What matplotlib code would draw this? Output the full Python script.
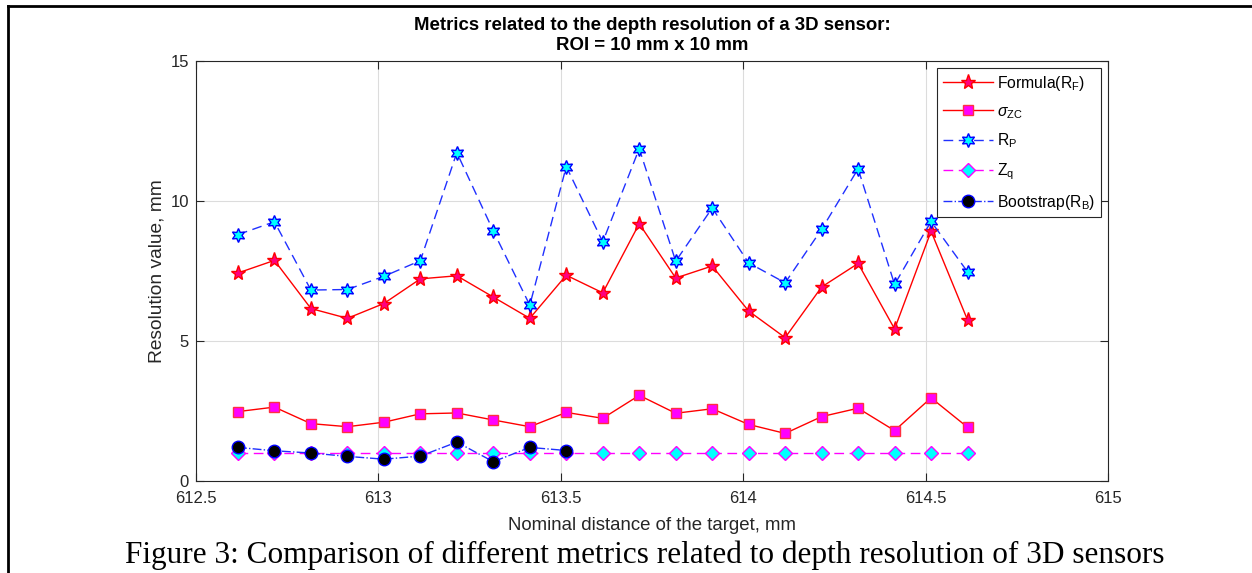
import matplotlib
matplotlib.use("Agg")
import matplotlib.pyplot as plt
from matplotlib.lines import Line2D
from matplotlib.ticker import FuncFormatter

plt.rcParams['font.family'] = ['Liberation Sans', 'DejaVu Sans']
plt.rcParams['mathtext.fontset'] = 'custom'
plt.rcParams['mathtext.rm'] = 'Liberation Sans'
plt.rcParams['mathtext.it'] = 'Liberation Sans:italic'

# nominal distances (mm)
dist = [612.615, 612.715, 612.815, 612.915, 613.015, 613.115, 613.215,
        613.315, 613.415, 613.515, 613.615, 613.715, 613.815, 613.915,
        614.015, 614.115, 614.215, 614.315, 614.415, 614.515, 614.615]

formula_rf = [7.44, 7.89, 6.17, 5.82, 6.35, 7.23, 7.34, 6.58, 5.82, 7.36, 6.73,
              9.20, 7.26, 7.69, 6.08, 5.13, 6.94, 7.78, 5.44, 8.93, 5.76]
sigma_zc = [2.49, 2.65, 2.06, 1.95, 2.11, 2.41, 2.44, 2.19, 1.95, 2.46, 2.25,
            3.07, 2.43, 2.59, 2.03, 1.71, 2.31, 2.61, 1.81, 2.98, 1.93]
r_p = [8.81, 9.27, 6.83, 6.85, 7.32, 7.88, 11.74, 8.94, 6.29, 11.24, 8.55,
       11.88, 7.86, 9.76, 7.80, 7.09, 9.00, 11.16, 7.03, 9.28, 7.48]
z_q = [1.0] * 21
# bootstrap only for the first 10 distances
boot_rb = [1.21, 1.09, 1.01, 0.89, 0.79, 0.90, 1.40, 0.70, 1.21, 1.10]

fig = plt.figure(figsize=(12.52, 5.73), dpi=100)
ax = fig.add_axes([196/1252, 1-481.3/573, (1108-196)/1252, (481.3-61.3)/573])

ax.plot(dist, formula_rf, '-', color='red', lw=1, marker='*', ms=11,
        mfc='#ff0080', mec='red', mew=1, label=r'Formula(R$_\mathrm{F}$)')
ax.plot(dist, sigma_zc, '-', color='red', lw=1, marker='s', ms=7.5,
        mfc='magenta', mec='#ff3040', mew=1, label=r'$\sigma_\mathrm{ZC}$')
ax.plot(dist, r_p, '--', color='#2030ff', lw=1, dashes=(7, 4), marker=(6, 1, 0), ms=10,
        mfc='cyan', mec='blue', mew=1, label=r'R$_\mathrm{P}$')
ax.plot(dist, z_q, '--', color='magenta', lw=1, dashes=(7, 4), marker='D', ms=7.5,
        mfc='cyan', mec='magenta', mew=1, label=r'Z$_\mathrm{q}$')
ax.plot(dist[:len(boot_rb)], boot_rb, '-.', color='#2030ff', lw=1, marker='o', ms=9,
        mfc='black', mec='blue', mew=1, label=r'Bootstrap(R$_\mathrm{B}$)')

ax.set_xlim(612.5, 615)
ax.set_ylim(0, 15)
ax.set_xticks([612.5, 613, 613.5, 614, 614.5, 615])
ax.set_yticks([0, 5, 10, 15])
ax.xaxis.set_major_formatter(FuncFormatter(lambda v, p: '%g' % v))
ax.grid(True, color='#dcdcdc', lw=0.8)
ax.set_axisbelow(True)
ax.tick_params(direction='in', length=6, width=0.8, top=True, right=True,
               labelsize=12, colors='#262626')
ax.tick_params(axis='x', pad=7)
ax.tick_params(axis='y', pad=5)
for s in ax.spines.values():
    s.set_linewidth(0.8)
    s.set_color('#262626')

ax.set_xlabel('Nominal distance of the target, mm', fontsize=13.4, color='#262626', labelpad=8)
ax.set_ylabel('Resolution value, mm', fontsize=13.8, color='#262626', labelpad=4)
ax.set_title('Metrics related to the depth resolution of a 3D sensor:\nROI = 10 mm x 10 mm',
             fontsize=13.4, fontweight='bold', pad=8, linespacing=1.25)

leg = ax.legend(loc='upper right', fontsize=11.3, fancybox=False, framealpha=1,
                edgecolor='#262626', handlelength=3.2, labelspacing=0.7,
                borderaxespad=0.45, handletextpad=0.25, borderpad=0.35)
leg.get_frame().set_linewidth(0.8)

fig.text(644.5/1252, 1-555/573, 'Figure 3: Comparison of different metrics related to depth resolution of 3D sensors',
         ha='center', va='center', fontsize=22.5, family='Liberation Serif')

# page border lines
fig.add_artist(Line2D([8/1252, 1], [1-6/573, 1-6/573], transform=fig.transFigure, color='black', lw=2))
fig.add_artist(Line2D([8/1252, 8/1252], [0, 1-6/573], transform=fig.transFigure, color='black', lw=2))

fig.savefig('out.png', dpi=100)
